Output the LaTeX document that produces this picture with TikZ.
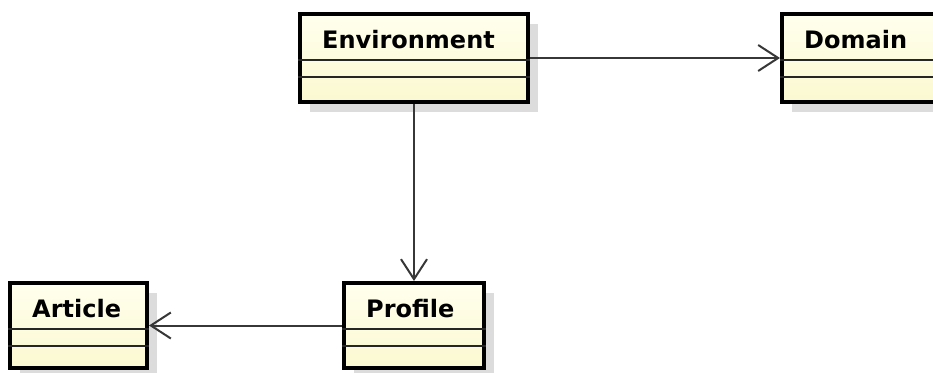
\documentclass[tikz,border=0pt]{standalone}
\usepackage{fontspec}
\setsansfont{DejaVu Sans}
\usetikzlibrary{arrows.meta,shadows,calc}

\definecolor{classtop}{RGB}{255,255,238}
\definecolor{classbot}{RGB}{251,249,208}
\definecolor{shadowgray}{RGB}{220,220,220}
\definecolor{linkgray}{RGB}{55,55,55}

\tikzset{umlclass/.style = {shape = rectangle,
                            draw = black,
                            line width = 4pt,
                            top color = classtop,
                            bottom color = classbot,
                            inner sep = 0pt,
                            drop shadow = {shadow xshift = 10pt,
                                           shadow yshift = -10pt,
                                           fill = shadowgray,
                                           opacity = 1}},
         classname/.style = {anchor = base west,
                             inner sep = 0pt,
                             font = \sffamily\bfseries\fontsize{24}{29}\selectfont},
         divider/.style = {draw = black!85,
                           line width = 2pt},
         assoc/.style = {draw = linkgray,
                         line width = 2pt,
                         -{Straight Barb[length=20pt,width=26pt,line width=2pt]}}}

\begin{document}
\begin{tikzpicture}[x=1pt,y=-1pt]
		\useasboundingbox (0,0) rectangle (933,372);
		\clip (0,0) rectangle (933,372);
		% classes: name / centre x / centre y / width / height / title
		\foreach \name/\x/\y/\w/\h/\txt in {env/414/58/228/88/Environment,
		                                    dom/882/58/200/88/Domain,
		                                    art/78.5/325.5/137/85/Article,
		                                    prof/414/325.5/140/85/Profile}
		{
			\node[umlclass, minimum width=\w pt, minimum height=\h pt] (\name) at (\x,\y) {};
			\node[classname] (\name-title) at ($(\name.north west)+(24,36)$) {\txt};
			\draw[divider] ($(\name.north west)+(0,48)$) -- ($(\name.north east)+(0,48)$);
			\draw[divider] ($(\name.north west)+(0,65)$) -- ($(\name.north east)+(0,65)$);
		}
		% associations
		\draw[assoc] (env) -- (dom);
		\draw[assoc] (env) -- (prof);
		\draw[assoc] (prof) -- (art);
	\end{tikzpicture}
\end{document}
